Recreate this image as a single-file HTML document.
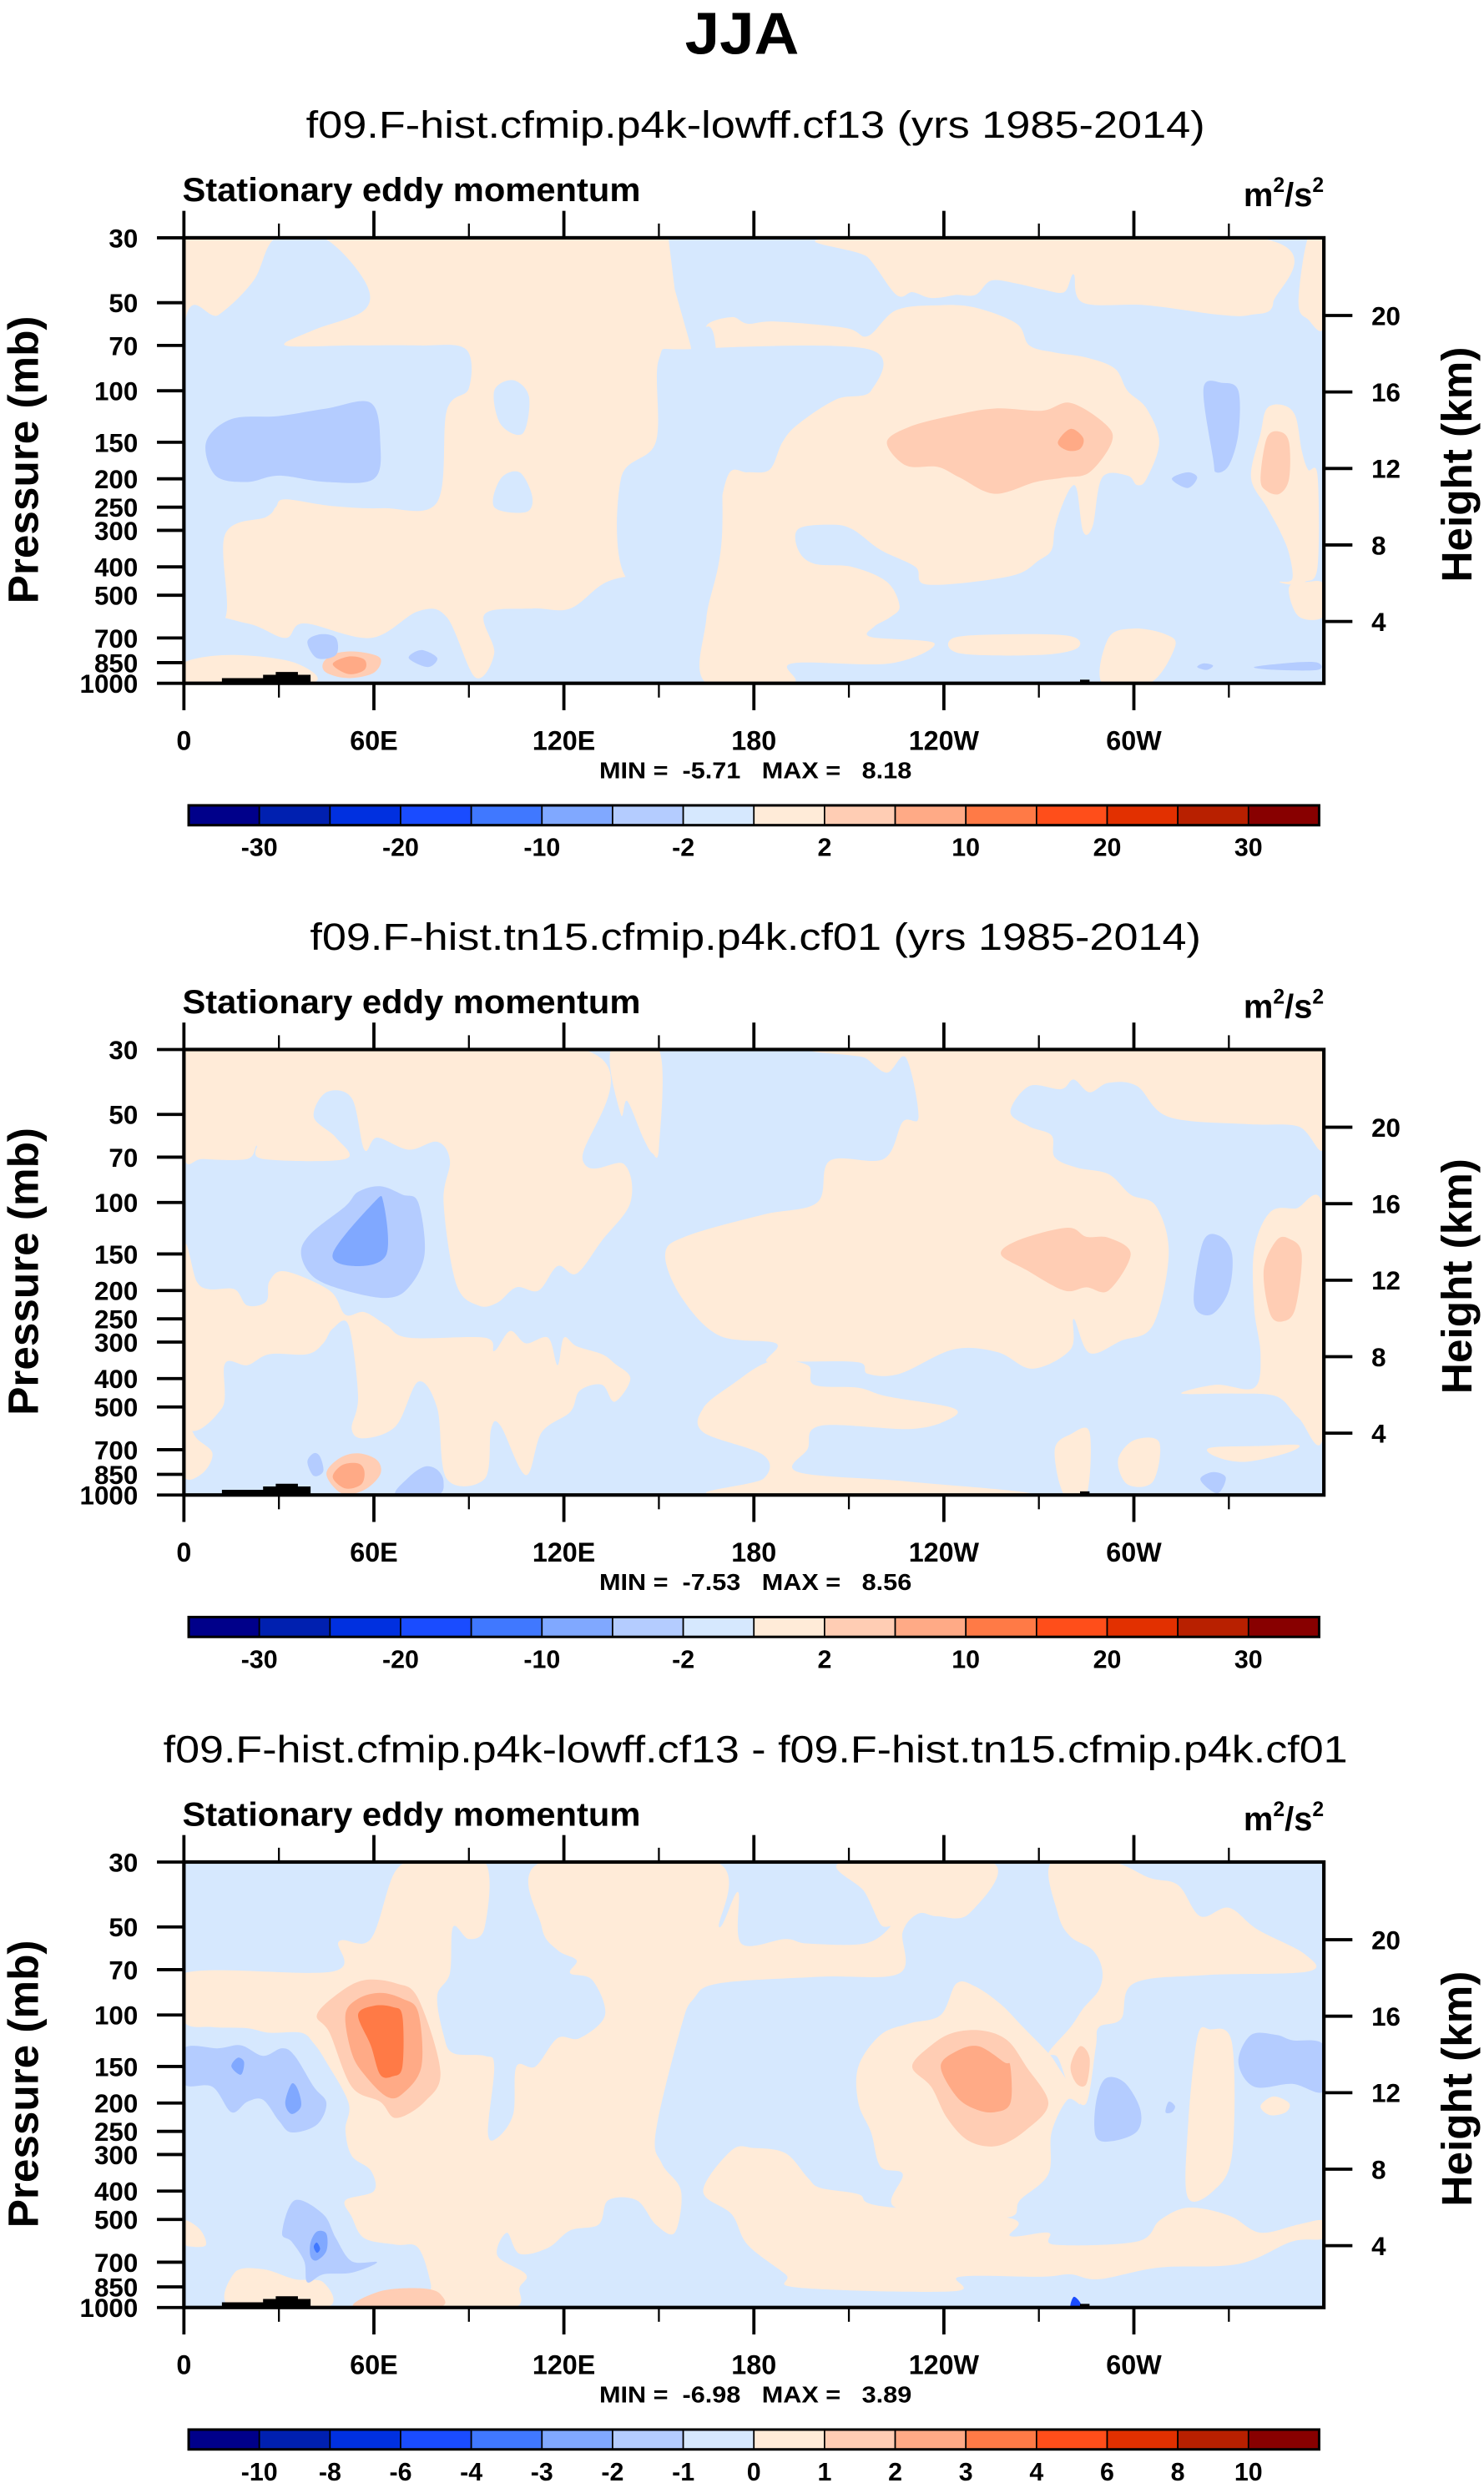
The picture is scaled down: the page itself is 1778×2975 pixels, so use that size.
<!DOCTYPE html>
<html><head><meta charset="utf-8"><title>JJA Stationary eddy momentum</title>
<style>
html,body{margin:0;padding:0;background:#fff;}
svg{display:block;}
text{font-family:"Liberation Sans",Arial,sans-serif;}
</style></head>
<body>
<svg id="fig" xmlns="http://www.w3.org/2000/svg" width="1778" height="2975" viewBox="0 0 936 1566.2" preserveAspectRatio="none">
<rect x="0" y="0" width="936" height="1566.2" fill="#fff"/>
<text x="468" y="34" text-anchor="middle" font-weight="bold" font-size="37" textLength="72" lengthAdjust="spacingAndGlyphs">JJA</text>
</svg>
<script>
// ---------- data ----------
const levelColors = ['#00008a','#0020b0','#0030e0','#1a4cff','#4078ff','#80a8ff','#b4ccff','#d6e8fe','#ffebd8','#ffcdb4','#ffaa86','#ff7a46','#ff4e1a','#e23000','#b82000','#880000'];
const pressureTicks = [30,50,70,100,150,200,250,300,400,500,700,850,1000];
const heightTicks = [20,16,12,8,4];
const lonTickValues = [0,60,120,180,240,300];
const lonTickLabels = ['0','60E','120E','180','120W','60W'];
const cbLabelsAbs = ['-30','-20','-10','-2','2','10','20','30'];
const cbLabelsDiff = ['-10','-8','-6','-4','-3','-2','-1','0','1','2','3','4','6','8','10'];
const subtitles = ['f09.F-hist.cfmip.p4k-lowff.cf13 (yrs 1985-2014)','f09.F-hist.tn15.cfmip.p4k.cf01 (yrs 1985-2014)','f09.F-hist.cfmip.p4k-lowff.cf13 - f09.F-hist.tn15.cfmip.p4k.cf01'];
const subtitleWidths = [567, 562, 747];
const minVals = ['-5.71','-7.53','-6.98'];
const maxVals = ['8.18','8.56','3.89'];
const baseLevels = [8,7,7];
const topography = [
 [[12,1000],[12,960],[25,960],[25,935],[29,935],[29,915],[36,915],[36,935],[40,935],[40,1000]],
 [[283,1000],[283,972],[286,972],[286,990],[310,990],[310,1000]],
 [[100,1000],[100,990],[102,990],[102,1000]]
];
// contour regions: level index + [lon, pressure] outline (+ optional 'sharp' for straight edges)
const shapes1 = [
 [7,[[0,62],[11,55],[22,42],[29,30],[44,30],[57,42],[57,53],[41,62],[32,70],[53,70],[74,70],[89,72],[90,98],[83,117],[80,240],[63,252],[47,248],[32,235],[29,250],[26,270],[13,310],[13,600],[0,620]]],
 [7,[[0,594],[20,624],[32,700],[38,624],[59,700],[74,567],[83,594],[92,954],[98,789],[95,580],[110,555],[122,555],[134,448],[149,428],[170,448],[173,594],[187,750],[181,1000],[0,1000]]],
 [8,[[0,850],[15,800],[35,850],[40,1000],[0,1000]]],
 [7,[[153,30],[360,30],[360,1000],[160,1000],[160,300],[165,150],[160,70],[155,45]],'sharp'],
 [8,[[207,30],[216,35],[225,47],[230,46],[235,48],[239,48],[244,47],[250,47],[255,42],[263,43],[271,45],[278,46],[281,40],[284,50],[304,51],[327,55],[337,55],[344,50],[339,30]]],
 [8,[[355,30],[352,50],[355,57],[360,60],[360,30]]],
 [8,[[173,56],[178,59],[187,58],[209,61],[216,65],[225,53],[239,51],[250,52],[263,59],[267,70],[275,74],[285,77],[294,84],[298,100],[304,115],[308,150],[304,200],[301,210],[298,195],[290,198],[287,290],[284,303],[282,218],[280,215],[277,252],[275,297],[274,350],[270,380],[261,430],[235,460],[231,400],[220,350],[211,297],[204,287],[194,297],[194,350],[199,390],[211,400],[222,450],[226,545],[223,595],[218,640],[217,695],[237,730],[223,855],[192,855],[192,1000],[165,1000],[165,600],[170,300],[168,72],[165,60]]],
 [8,[[243,700],[260,680],[280,690],[282,760],[270,800],[245,790]]],
 [8,[[290,1000],[292,700],[300,650],[310,680],[313,750],[305,1000]]],
 [8,[[349,470],[355,450],[360,460],[360,590],[352,590]]],
 [8,[[337,198],[340,140],[342,115],[347,112],[351,122],[353,160],[355,186],[358,195],[358,400],[354,450],[350,460],[346,450],[350,440],[349,360],[346,300],[342,250]]],
 [7,[[150,78],[160,72],[216,72],[217,100],[206,107],[194,130],[189,150],[185,186],[178,190],[172,193],[168,300],[165,450],[140,440],[138,200],[149,150]]],
 [7,[[98,100],[104,92],[109,105],[107,140],[100,130]]],
 [7,[[100,200],[106,190],[110,230],[108,260],[98,250]]],
 [6,[[7,150],[15,125],[30,122],[45,115],[59,110],[62,150],[60,200],[45,205],[30,195],[20,205],[10,195]]],
 [9,[[222,150],[229,133],[242,122],[256,115],[271,117],[280,110],[291,130],[293,150],[286,190],[278,198],[269,205],[256,225],[245,198],[238,182],[228,180]]],
 [10,[[276,150],[280,135],[284,145],[283,158],[279,160]]],
 [6,[[322,98],[328,94],[333,100],[333,140],[330,180],[326,190],[325,170]]],
 [6,[[312,200],[317,190],[320,198],[317,215]]],
 [9,[[340,200],[342,145],[346,138],[349,150],[349,200],[346,225],[342,220]]],
 [9,[[44,850],[48,790],[55,780],[62,820],[60,920],[52,960],[45,920]]],
 [10,[[47,860],[52,810],[57,830],[57,900],[52,930]]],
 [6,[[39,720],[43,680],[48,700],[48,800],[42,820]]],
 [6,[[71,820],[75,770],[80,820],[77,880]]],
 [6,[[338,880],[350,850],[358,850],[358,900],[345,900]]],
 [6,[[320,880],[322,855],[325,870],[323,900]]]
];
const shapes2 = [
 [8,[[0,30],[126,30],[126,72],[139,74],[141,100],[132,135],[124,175],[118,165],[112,200],[105,195],[99,220],[93,225],[86,190],[82,100],[84,72],[80,62],[71,66],[61,60],[57,66],[53,44],[45,42],[41,51],[48,60],[51,71],[25,71],[23,64],[20,71],[6,71],[0,69]]],
 [8,[[135,30],[150,30],[150,65],[148,68],[145,60],[140,45],[138,50]]],
 [8,[[208,30],[215,32],[222,36],[228,32],[232,51],[227,53],[221,71],[204,72],[200,100],[183,110],[159,130],[152,150],[157,210],[169,285],[187,303],[184,350],[194,350],[213,352],[216,385],[226,385],[243,318],[257,325],[268,370],[280,318],[281,250],[286,327],[296,297],[306,263],[311,150],[307,103],[299,94],[292,80],[282,76],[275,70],[274,59],[267,55],[261,49],[267,40],[277,41],[281,38],[286,42],[292,39],[301,40],[311,51],[336,54],[352,55],[360,65],[360,30]]],
 [8,[[338,145],[343,108],[351,105],[360,108],[360,610],[352,545],[345,460],[331,450],[315,450],[326,420],[338,430],[340,330],[338,230]]],
 [8,[[185,350],[197,360],[199,420],[213,430],[222,460],[243,505],[241,555],[229,595],[201,580],[197,695],[194,835],[229,900],[266,1000],[169,1000],[183,880],[183,730],[164,610],[164,505],[173,420]]],
 [8,[[0,145],[4,186],[8,198],[16,198],[20,225],[26,218],[27,186],[32,172],[46,200],[51,242],[57,237],[64,263],[71,290],[95,290],[98,322],[103,275],[108,303],[115,290],[118,360],[120,290],[124,310],[132,330],[136,355],[141,400],[136,480],[132,420],[125,440],[122,520],[113,610],[108,855],[100,580],[97,595],[95,880],[83,880],[80,505],[74,410],[67,580],[57,640],[53,595],[55,460],[52,263],[47,270],[44,303],[39,330],[27,330],[20,360],[13,355],[12,505],[0,555]]],
 [8,[[0,555],[4,640],[9,720],[6,840],[0,860]]],
 [8,[[275,700],[280,620],[286,610],[285,1000],[278,1000]]],
 [8,[[295,760],[300,650],[308,660],[306,900],[298,920]]],
 [8,[[324,690],[340,680],[352,675],[348,720],[335,770],[326,740]]],
 [6,[[37,150],[40,128],[51,103],[55,92],[62,88],[69,94],[74,100],[76,150],[71,195],[64,212],[51,200],[41,180]]],
 [5,[[47,150],[60,100],[63,100],[64,150],[55,165]]],
 [9,[[258,150],[264,134],[279,122],[285,131],[292,132],[299,150],[292,200],[285,195],[278,200],[266,170]]],
 [6,[[319,200],[322,135],[327,130],[331,150],[330,200],[325,240],[320,235]]],
 [9,[[341,170],[345,135],[349,133],[353,150],[351,230],[347,255],[343,240]]],
 [9,[[45,850],[49,750],[55,720],[61,760],[62,850],[57,960],[50,990]]],
 [10,[[47,870],[50,790],[55,780],[57,830],[56,920],[51,950]]],
 [6,[[67,1000],[71,870],[76,800],[80,820],[82,900],[80,1000]]],
 [6,[[39,770],[41,720],[43,740],[44,830],[41,860]]],
 [6,[[321,880],[325,835],[329,870],[327,980],[324,960]]]
];
const shapes3 = [
 [8,[[0,72],[47,71],[49,56],[59,55],[67,32],[77,30],[95,30],[95,50],[90,55],[85,50],[84,72],[80,86],[82,117],[85,135],[95,138],[98,150],[96,252],[99,263],[104,218],[105,150],[111,150],[118,120],[125,120],[133,100],[129,76],[122,72],[124,65],[118,60],[113,50],[113,30],[168,30],[169,50],[175,38],[176,57],[190,55],[197,57],[215,57],[223,50],[220,49],[215,38],[208,30],[255,30],[248,45],[238,46],[232,45],[227,52],[226,72],[201,74],[169,78],[161,88],[157,110],[149,252],[151,323],[157,400],[155,555],[149,520],[143,430],[134,430],[131,520],[122,545],[115,625],[106,655],[102,555],[99,665],[108,770],[106,855],[104,1000],[78,1000],[78,835],[74,625],[67,610],[57,580],[53,490],[51,430],[60,400],[59,340],[53,303],[51,247],[52,200],[45,145],[41,125],[37,115],[27,115],[20,111],[9,110],[0,105]]],
 [8,[[274,30],[293,30],[305,34],[314,36],[321,46],[330,43],[339,51],[354,62],[355,71],[323,73],[300,78],[296,103],[289,110],[288,128],[285,200],[280,180],[276,140],[273,135],[280,110],[284,95],[289,82],[290,70],[287,60],[280,54],[276,45]]],
 [8,[[244,78],[250,80],[258,92],[265,110],[273,135],[276,150],[283,200],[279,195],[274,252],[273,350],[264,430],[261,490],[243,490],[224,450],[227,350],[220,330],[217,252],[213,200],[213,150],[220,117],[229,107],[239,100]]],
 [8,[[164,400],[173,290],[180,285],[190,297],[197,360],[201,390],[213,410],[220,450],[261,495],[261,570],[273,555],[275,610],[301,595],[308,505],[315,460],[322,460],[331,490],[340,555],[352,520],[360,505],[360,580],[350,595],[333,710],[308,730],[289,800],[280,770],[271,785],[245,785],[243,880],[194,855],[190,770],[178,610],[173,480]]],
 [8,[[317,250],[320,120],[324,112],[331,125],[331,300],[325,400],[317,420]]],
 [8,[[0,505],[5,540],[7,610],[3,620],[0,600]]],
 [8,[[15,1000],[16,760],[25,740],[35,800],[44,820],[45,1000]]],
 [9,[[42,100],[49,84],[57,76],[67,78],[74,88],[81,156],[76,198],[67,225],[62,198],[53,176],[46,115]]],
 [10,[[51,100],[55,88],[62,84],[69,88],[74,98],[75,150],[69,186],[64,190],[57,160],[53,135]]],
 [11,[[55,100],[60,93],[66,94],[69,101],[69,150],[66,162],[62,160],[59,127]]],
 [9,[[230,150],[236,127],[243,115],[252,113],[260,122],[266,150],[273,200],[266,247],[257,280],[248,270],[241,225],[236,176]]],
 [10,[[239,150],[244,133],[251,128],[259,145],[261,150],[261,200],[256,215],[250,210],[244,190]]],
 [9,[[280,150],[283,128],[286,140],[285,172],[282,172]]],
 [6,[[0,130],[11,130],[18,127],[25,138],[31,130],[35,138],[41,176],[45,200],[42,237],[34,252],[30,230],[25,195],[20,198],[15,215],[9,176],[0,172]]],
 [5,[[15,150],[17,140],[19,145],[18,160]]],
 [5,[[32,200],[34,172],[36,180],[37,205],[34,218]]],
 [6,[[288,200],[291,165],[297,170],[302,210],[301,250],[293,270],[288,260]]],
 [6,[[333,145],[337,117],[345,117],[350,122],[360,127],[360,182],[350,172],[338,176]]],
 [8,[[340,205],[344,190],[349,200],[348,215],[343,220]]],
 [6,[[310,215],[311,198],[313,205],[312,215]]],
 [6,[[31,555],[35,430],[44,480],[48,580],[53,695],[61,700],[53,760],[44,770],[39,820],[38,695],[34,595]]],
 [5,[[40,600],[42,550],[45,560],[45,640],[42,690],[40,670]]],
 [4,[[41,620],[42,600],[43,630],[42,650]]],
 [9,[[54,1000],[62,880],[75,860],[81,900],[80,1000]]],
 [3,[[280,1000],[281,920],[283,960],[283,1000]]]
];
const panelShapes = [shapes1, shapes2, shapes3];
const panelOffsets = [0, 512, 1024.5];

// ---------- axes ----------
const NS = 'http://www.w3.org/2000/svg';
const svg = document.getElementById('fig');
const PX0 = 116, PX1 = 835, PY0 = 150, PY1 = 431;
const lg30 = Math.log10(30);
function xOf(lon){ return PX0 + lon/360*(PX1-PX0); }
function yOf(p, off){ return off + PY0 + (Math.log10(p)-lg30)/(3-lg30)*(PY1-PY0); }
function yOfHeight(z, off){ return off + 392 - (z-4)*(392-199)/16; }
function el(tag, attrs, parent){
  const e = document.createElementNS(NS, tag);
  for (const k in attrs) e.setAttribute(k, attrs[k]);
  (parent||svg).appendChild(e);
  return e;
}
function txt(str, x, y, size, anchor, parent, bold){
  const t = el('text', {x:x, y:y, 'font-size':size, 'text-anchor':anchor||'start', 'font-weight':bold===false?'normal':'bold'}, parent);
  t.textContent = str;
  return t;
}
function smoothPath(pts){
  const n = pts.length;
  let d = 'M' + pts[0][0].toFixed(2) + ',' + pts[0][1].toFixed(2);
  for (let i=0;i<n;i++){
    const p0=pts[(i-1+n)%n], p1=pts[i], p2=pts[(i+1)%n], p3=pts[(i+2)%n];
    const c1x=p1[0]+(p2[0]-p0[0])/6, c1y=p1[1]+(p2[1]-p0[1])/6;
    const c2x=p2[0]-(p3[0]-p1[0])/6, c2y=p2[1]-(p3[1]-p1[1])/6;
    d += 'C'+c1x.toFixed(2)+','+c1y.toFixed(2)+' '+c2x.toFixed(2)+','+c2y.toFixed(2)+' '+p2[0].toFixed(2)+','+p2[1].toFixed(2);
  }
  return d + 'Z';
}
function sharpPath(pts){
  return 'M' + pts.map(function(p){ return p[0].toFixed(2)+','+p[1].toFixed(2); }).join('L') + 'Z';
}

panelOffsets.forEach(function(off, k){
  const g = el('g', {});
  
  

  const st = txt(subtitles[k], 476.5, off+87, 24, 'middle', g, false);
  st.setAttribute('textLength', subtitleWidths[k]);
  st.setAttribute('lengthAdjust', 'spacingAndGlyphs');
  
  
  const lt = txt('Stationary eddy momentum', 115, off+127, 21, 'start', g);
  lt.setAttribute('textLength', 289);
  lt.setAttribute('lengthAdjust', 'spacingAndGlyphs');
  
  
  const ut = el('text', {x:835, y:off+130, 'font-size':21, 'font-weight':'bold', 'text-anchor':'end'}, g);
  ut.innerHTML = 'm<tspan font-size="13" dy="-9">2</tspan><tspan dy="9">/s</tspan><tspan font-size="13" dy="-9">2</tspan>';
  
  

  const cid = 'clip' + k;
  const cp = el('clipPath', {id:cid}, g);
  el('rect', {x:PX0, y:off+PY0, width:PX1-PX0, height:PY1-PY0}, cp);
  const field = el('g', {'clip-path':'url(#'+cid+')'}, g);
  
  
  const base = el('rect', {x:PX0, y:off+PY0, width:PX1-PX0, height:PY1-PY0, fill:levelColors[baseLevels[k]]}, field);
  
  
  panelShapes[k].forEach(function(s){
    const pts = s[1].map(function(q){ return [xOf(q[0]), yOf(q[1], off)]; });
    const d = s[2] === 'sharp' ? sharpPath(pts) : smoothPath(pts);
    const path = el('path', {d:d, fill:levelColors[s[0]]}, field);
    
    
  });
  topography.forEach(function(t){
    const pts = t.map(function(q){ return xOf(q[0]).toFixed(2)+','+yOf(q[1], off).toFixed(2); }).join(' ');
    const poly = el('polygon', {points:pts, fill:'#000'}, field);
    
    
  });

  const frame = el('rect', {x:PX0, y:off+PY0, width:PX1-PX0, height:PY1-PY0, fill:'none', stroke:'#000', 'stroke-width':2.2}, g);
  
  

  for (let lon=0; lon<=330; lon+=30){
    const major = lon % 60 === 0;
    const len = major ? 17 : 9;
    const x = xOf(lon);
    const tt = el('line', {x1:x, x2:x, y1:off+PY0, y2:off+PY0-len, stroke:'#000', 'stroke-width':major?2:1.2}, g);
    
    
    const bt = el('line', {x1:x, x2:x, y1:off+PY1, y2:off+PY1+len, stroke:'#000', 'stroke-width':major?2:1.2}, g);
    
    
  }
  lonTickValues.forEach(function(v, i){
    const t = txt(lonTickLabels[i], xOf(v), off+473, 17, 'middle', g);
    
    
  });
  pressureTicks.forEach(function(p){
    const y = yOf(p, off);
    const tl = el('line', {x1:PX0-17, x2:PX0, y1:y, y2:y, stroke:'#000', 'stroke-width':2}, g);
    
    
    const t = txt(String(p), 87, y+6, 16.5, 'end', g);
    
    
  });
  heightTicks.forEach(function(z){
    const y = yOfHeight(z, off);
    const tl = el('line', {x1:PX1, x2:PX1+18, y1:y, y2:y, stroke:'#000', 'stroke-width':2}, g);
    
    
    const t = txt(String(z), 865, y+6, 16.5, 'start', g);
    
    
  });
  const ya = txt('Pressure (mb)', 0, 0, 27, 'middle', g);
  ya.setAttribute('transform', 'translate(24,'+(off+290)+') rotate(-90)');
  
  
  const ra = txt('Height (km)', 0, 0, 27, 'middle', g);
  ra.setAttribute('transform', 'translate(928,'+(off+293)+') rotate(-90)');
  
  
  const mm = txt('MIN =  ' + minVals[k] + '   MAX =   ' + maxVals[k], 476.5, off+491, 14.5, 'middle', g);
  mm.setAttribute('style', 'white-space:pre');
  mm.setAttribute('textLength', 197);
  mm.setAttribute('lengthAdjust', 'spacingAndGlyphs');
  
  

  const cb = el('g', {}, g);
  
  
  const cx0 = 119, cx1 = 832, cy = off+508, ch = 12.5, bw = (cx1-cx0)/levelColors.length;
  levelColors.forEach(function(c, i){
    const r = el('rect', {x:cx0+i*bw, y:cy, width:bw, height:ch, fill:c, stroke:'#000', 'stroke-width':0.9}, cb);
    
    
  });
  el('rect', {x:cx0, y:cy, width:cx1-cx0, height:ch, fill:'none', stroke:'#000', 'stroke-width':1.6}, cb);
  if (k < 2){
    cbLabelsAbs.forEach(function(l, i){
      const t = txt(l, cx0+(2*i+1)*bw, off+540, 16, 'middle', cb);
      
      
    });
  } else {
    cbLabelsDiff.forEach(function(l, i){
      const t = txt(l, cx0+(i+1)*bw, off+540, 16, 'middle', cb);
      
      
    });
  }
});
</script>
</body></html>
